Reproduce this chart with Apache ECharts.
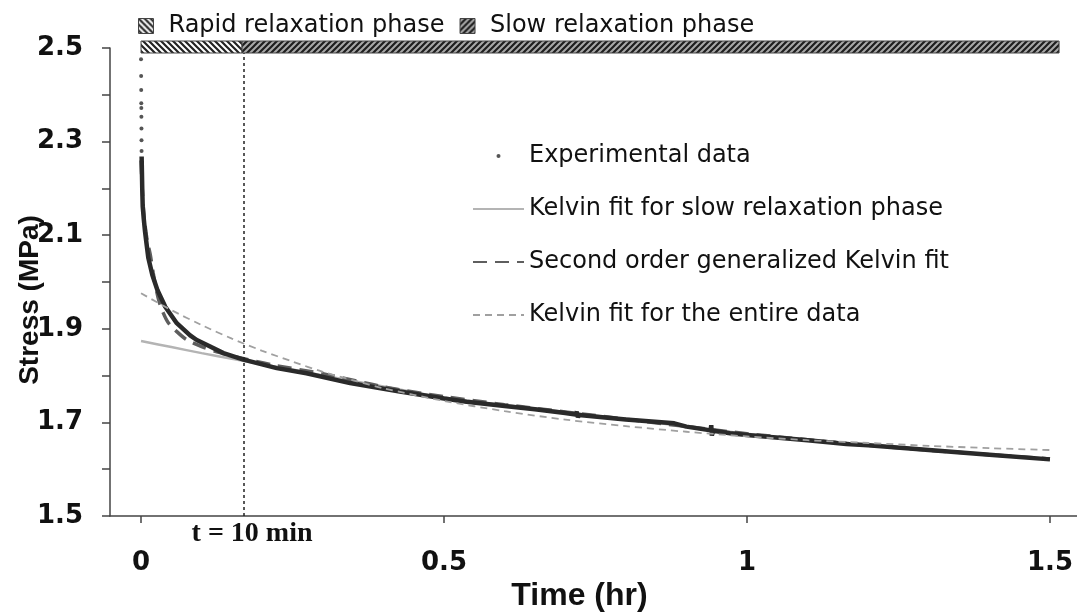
<!DOCTYPE html>
<html>
<head>
<meta charset="utf-8">
<script src="https://cdn.jsdelivr.net/npm/echarts@6.0.0/dist/echarts.min.js"></script>
<style>html,body{margin:0;padding:0;background:#fff;}#main{width:1077px;height:616px;}</style>
</head>
<body>
<div id="main"></div>
<script>
// ---- Data ----
// Experimental data: isolated early samples (t in hr, stress in MPa)
const expDotTime   = [0.0000, 0.0002, 0.0003, 0.0004, 0.0005, 0.0006, 0.0007, 0.0008, 0.0009];
const expDotStress = [2.476, 2.440, 2.410, 2.382, 2.372, 2.353, 2.328, 2.303, 2.280];
// Experimental data: dense continuous record
const expTime   = [0.0010, 0.0015, 0.0020, 0.0028, 0.0045, 0.0066, 0.0083, 0.012, 0.0187, 0.027, 0.040, 0.059, 0.081, 0.092, 0.114, 0.136, 0.169, 0.224, 0.273, 0.345, 0.427, 0.500, 0.537, 0.600, 0.650, 0.700, 0.717, 0.719, 0.721, 0.723, 0.800, 0.880, 0.900, 0.940, 0.941, 0.942, 0.944, 0.972, 1.000, 1.100, 1.164, 1.200, 1.300, 1.400, 1.500];
const expStress = [2.268, 2.235, 2.200, 2.161, 2.135, 2.108, 2.090, 2.052, 2.015, 1.983, 1.947, 1.912, 1.886, 1.876, 1.862, 1.848, 1.834, 1.816, 1.805, 1.784, 1.766, 1.751, 1.744, 1.735, 1.728, 1.720, 1.717, 1.723, 1.711, 1.716, 1.706, 1.698, 1.691, 1.683, 1.694, 1.672, 1.682, 1.677, 1.673, 1.662, 1.654, 1.651, 1.641, 1.631, 1.621];
// Kelvin fit for slow relaxation phase
const slowFitTime   = [0, 0.05, 0.10, 0.15, 0.20, 0.25, 0.30, 0.40, 0.50, 0.60, 0.80, 1.00, 1.20, 1.40, 1.50];
const slowFitStress = [1.874, 1.861, 1.848, 1.836, 1.824, 1.813, 1.800, 1.777, 1.753, 1.737, 1.707, 1.676, 1.652, 1.632, 1.622];
// Second order generalized Kelvin fit
const gkTime   = [0, 0.002, 0.005, 0.010, 0.015, 0.020, 0.025, 0.030, 0.037, 0.045, 0.059, 0.075, 0.100, 0.130, 0.170, 0.220, 0.300, 0.400, 0.500, 0.600, 0.800, 1.000, 1.200, 1.400, 1.500];
const gkStress = [2.260, 2.200, 2.140, 2.090, 2.060, 2.020, 1.985, 1.958, 1.933, 1.913, 1.894, 1.877, 1.862, 1.849, 1.836, 1.822, 1.804, 1.776, 1.755, 1.738, 1.707, 1.676, 1.651, 1.631, 1.622];
// Kelvin fit for the entire data
const keTime   = [0, 0.05, 0.10, 0.15, 0.20, 0.25, 0.30, 0.35, 0.40, 0.50, 0.60, 0.70, 0.80, 0.90, 1.00, 1.10, 1.20, 1.30, 1.40, 1.50];
const keStress = [1.976, 1.940, 1.908, 1.879, 1.853, 1.830, 1.808, 1.790, 1.773, 1.746, 1.724, 1.706, 1.692, 1.680, 1.670, 1.662, 1.656, 1.650, 1.645, 1.641];
// Relaxation phases (hr)
const phaseNames = ['Rapid relaxation phase', 'Slow relaxation phase'];
const phaseStart = [0, 0.1667];
const phaseEnd   = [0.1667, 1.515];
const phaseBoundary = 0.1667; // t = 10 min
// Axis ticks
const xTickValues  = [0, 0.5, 1, 1.5];
const yTickValues  = [1.5, 1.6, 1.7, 1.8, 1.9, 2.0, 2.1, 2.2, 2.3, 2.4, 2.5];
const yLabelValues = [1.5, 1.7, 1.9, 2.1, 2.3, 2.5];

const zip = (a, b) => a.map((v, i) => [v, b[i]]);

function makePattern(bg, fg, forward) {
  const c = document.createElement('canvas');
  const s = 6;
  c.width = s; c.height = s;
  const g = c.getContext('2d');
  g.fillStyle = bg; g.fillRect(0, 0, s, s);
  g.strokeStyle = fg; g.lineWidth = 2.2;
  g.beginPath();
  if (forward) {
    g.moveTo(-1, s + 1); g.lineTo(s + 1, -1);
    g.moveTo(-1, 1); g.lineTo(1, -1);
    g.moveTo(s - 1, s + 1); g.lineTo(s + 1, s - 1);
  } else {
    g.moveTo(-1, -1); g.lineTo(s + 1, s + 1);
    g.moveTo(s - 1, -1); g.lineTo(s + 1, 1);
    g.moveTo(-1, s - 1); g.lineTo(1, s + 1);
  }
  g.stroke();
  return { image: c, repeat: 'repeat' };
}
const phaseFills = [makePattern('#ffffff', '#222222', false), makePattern('#a8a8a8', '#1e1e1e', true)];

function phaseSeries(i) {
  return {
    type: 'custom',
    name: phaseNames[i],
    coordinateSystem: 'cartesian2d',
    clip: false,
    z: 10,
    silent: true,
    itemStyle: { color: phaseFills[i], borderColor: '#444', borderWidth: 1 },
    encode: { x: [0, 1] },
    data: [[phaseStart[i], phaseEnd[i]]],
    renderItem: function (params, api) {
      const p0 = api.coord([api.value(0), 2.5]);
      const p1 = api.coord([api.value(1), 2.5]);
      return {
        type: 'rect',
        shape: { x: p0[0], y: p0[1] - 7, width: p1[0] - p0[0], height: 12 },
        style: { fill: phaseFills[i], stroke: '#444', lineWidth: 1 }
      };
    }
  };
}

const SANS = 'DejaVu Sans';
const chart = echarts.init(document.getElementById('main'));
chart.setOption({
  animation: false,
  backgroundColor: '#ffffff',
  grid: { left: 110, right: 0, top: 48, bottom: 100, containLabel: false, outerBoundsMode: 'none' },
  xAxis: {
    type: 'value', min: -0.0512, max: 1.5446,
    name: 'Time (hr)', nameLocation: 'middle', nameGap: 64, nameMoveOverlap: false,
    nameTextStyle: { fontFamily: 'Liberation Sans', fontWeight: 'bold', fontSize: 32, color: '#111', padding: [0, 28, 0, 0] },
    axisLine: { show: true, onZero: false, lineStyle: { color: '#444', width: 1.5 } },
    axisTick: { show: true, customValues: xTickValues, length: 7, lineStyle: { color: '#444', width: 1.5 } },
    axisLabel: { customValues: xTickValues, margin: 34, fontFamily: SANS, fontWeight: 'bold', fontSize: 26, color: '#111' },
    splitLine: { show: false }
  },
  yAxis: {
    type: 'value', min: 1.5, max: 2.5,
    name: 'Stress (MPa)', nameLocation: 'middle', nameGap: 66, nameMoveOverlap: false,
    nameTextStyle: { fontFamily: 'Liberation Sans', fontWeight: 'bold', fontSize: 28, color: '#111', padding: [0, 36, 0, 0] },
    axisLine: { show: true, onZero: false, lineStyle: { color: '#444', width: 1.5 } },
    axisTick: { show: true, customValues: yTickValues, length: 8, lineStyle: { color: '#444', width: 1.5 } },
    axisLabel: { customValues: yLabelValues, margin: 27, fontFamily: SANS, fontWeight: 'bold', fontSize: 26, color: '#111',
      formatter: v => Number(v).toFixed(1) },
    splitLine: { show: false }
  },
  legend: [
    {
      data: phaseNames,
      left: 133, top: 9,
      orient: 'horizontal',
      icon: 'rect', itemWidth: 15, itemHeight: 15, itemGap: 15,
      itemStyle: { borderColor: '#444', borderWidth: 1 },
      textStyle: { fontFamily: SANS, fontSize: 24, color: '#111', padding: [0, 0, 0, 10] },
      selectedMode: false
    },
    {
      data: [
        { name: 'Experimental data', icon: 'circle' },
        { name: 'Kelvin fit for slow relaxation phase', itemStyle: { opacity: 0 } },
        { name: 'Second order generalized Kelvin fit', itemStyle: { opacity: 0 } },
        { name: 'Kelvin fit for the entire data', itemStyle: { opacity: 0 } }
      ],
      left: 467, top: 139,
      orient: 'vertical',
      itemWidth: 51, itemHeight: 4, itemGap: 29,
      textStyle: { fontFamily: SANS, fontSize: 24, color: '#111' },
      selectedMode: false
    }
  ],
  series: [
    phaseSeries(0),
    phaseSeries(1),
    {
      type: 'scatter', name: 'Experimental data',
      data: zip(expDotTime, expDotStress),
      symbol: 'circle', symbolSize: 4,
      itemStyle: { color: '#2a2a2a' }, z: 6
    },
    {
      type: 'line', name: 'Kelvin fit for slow relaxation phase',
      data: zip(slowFitTime, slowFitStress),
      symbol: 'none', smooth: 0.3,
      lineStyle: { color: '#b4b4b4', width: 2.5 }, itemStyle: { color: '#b4b4b4' }, z: 2
    },
    {
      type: 'line', name: 'Second order generalized Kelvin fit',
      data: zip(gkTime, gkStress),
      symbol: 'none', smooth: 0.3,
      lineStyle: { color: '#5e5e5e', width: 3.5, type: [14, 8] }, itemStyle: { color: '#5e5e5e' }, z: 3
    },
    {
      type: 'line', name: 'Experimental data',
      data: zip(expTime, expStress),
      symbol: 'none',
      lineStyle: { color: '#2a2a2a', width: 4.5 }, itemStyle: { color: '#2a2a2a' }, z: 4,
      markLine: {
        silent: true, symbol: 'none',
        lineStyle: { color: '#222', width: 1.5, type: [3, 3] },
        label: {
          show: true, position: 'start', distance: 4,
          formatter: 't = 10 min',
          fontFamily: 'Liberation Serif', fontWeight: 'bold', fontSize: 28, color: '#111',
          padding: [0, 0, 0, 16]
        },
        data: [{ xAxis: phaseBoundary }]
      }
    },
    {
      type: 'line', name: 'Kelvin fit for the entire data',
      data: zip(keTime, keStress),
      symbol: 'none', smooth: 0.3,
      lineStyle: { color: '#a0a0a0', width: 1.8, type: [7, 5] }, itemStyle: { color: '#a0a0a0' }, z: 5
    }
  ]
});
</script>
</body>
</html>
